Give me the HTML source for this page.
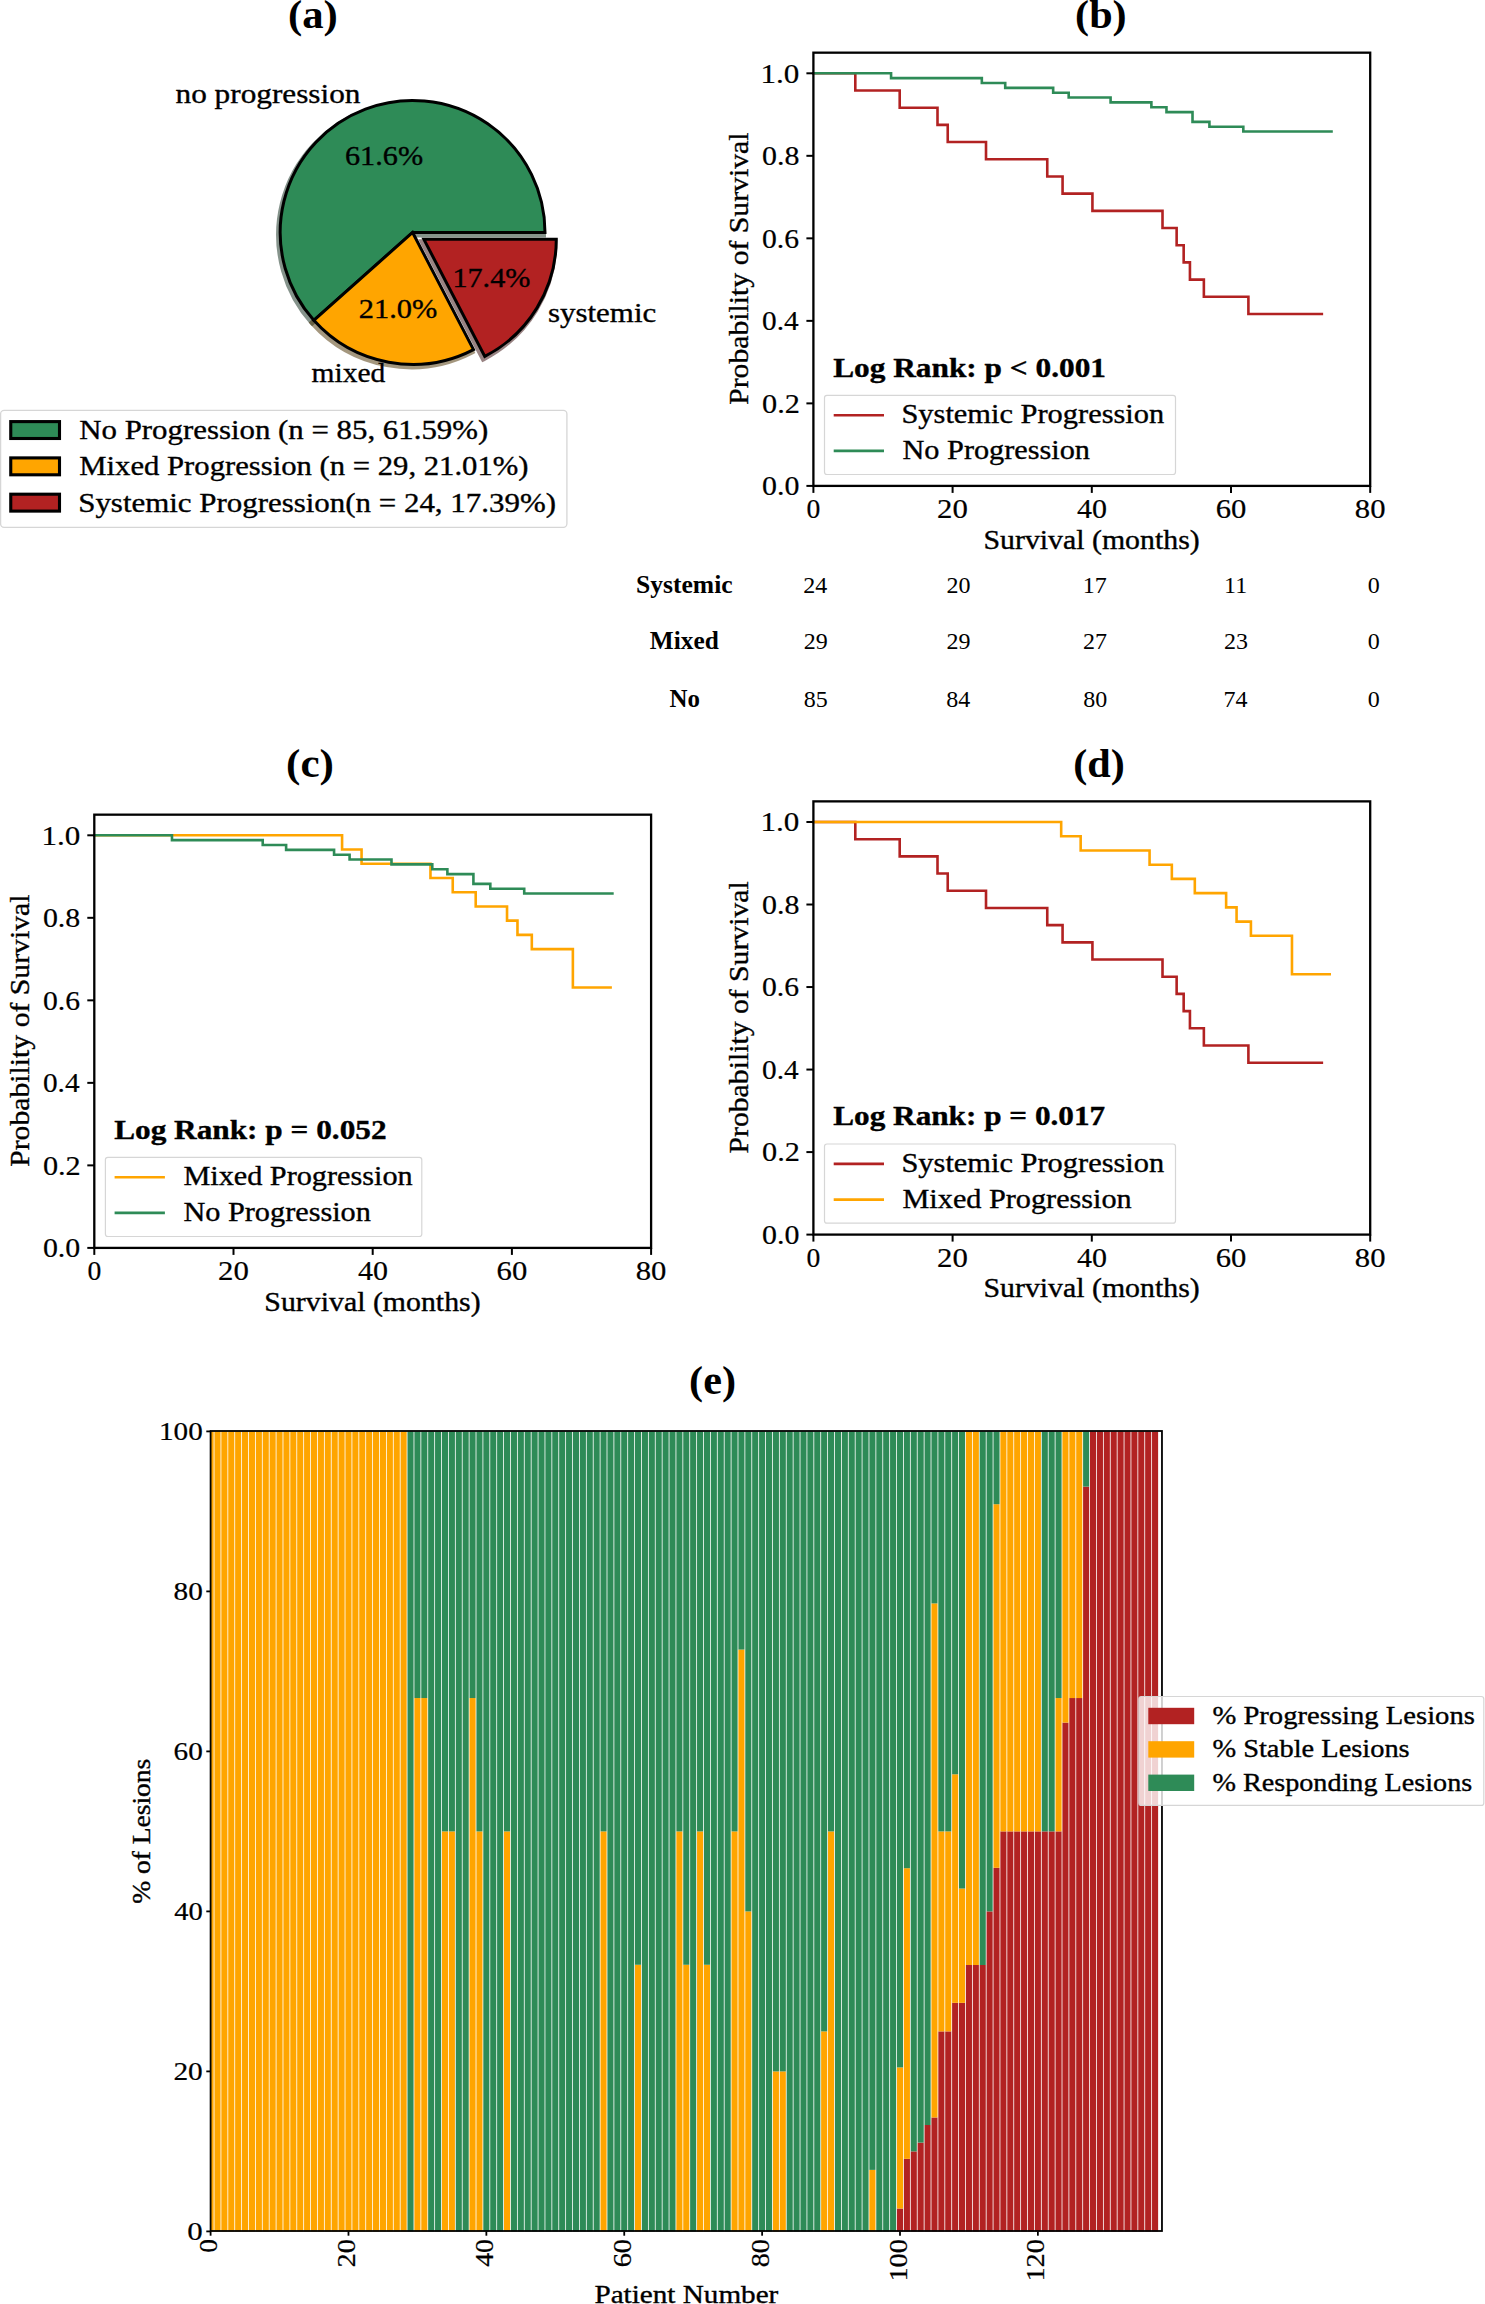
<!DOCTYPE html>
<html><head><meta charset="utf-8"><title>Figure</title>
<style>html,body{margin:0;padding:0;background:#fff;}svg{display:block;}</style></head>
<body><svg width="1485" height="2304" viewBox="0 0 1485 2304">
<rect width="1485" height="2304" fill="#fff"/>
<path d="M411.05,234.9 L543.45,234.9 A132.4,131.9 0 1 0 312.26,322.71 Z" fill="rgb(13,41,26)" stroke="rgb(13,41,26)" stroke-width="5.1" stroke-linejoin="miter" opacity="0.5"/>
<path d="M411.05,234.9 L312.26,322.71 A132.4,131.9 0 0 0 471.96,352.01 Z" fill="rgb(76,49,0)" stroke="rgb(76,49,0)" stroke-width="5.1" stroke-linejoin="miter" opacity="0.5"/>
<path d="M422.34,241.77 L483.25,358.88 A132.4,131.9 0 0 0 554.74,241.77 Z" fill="rgb(53,10,10)" stroke="rgb(53,10,10)" stroke-width="5.1" stroke-linejoin="miter" opacity="0.5"/>
<path d="M412.6,232.45 L545,232.45 A132.4,131.9 0 1 0 313.81,320.26 Z" fill="#2e8b57" stroke="#000" stroke-width="3" stroke-linejoin="miter"/>
<path d="M412.6,232.45 L313.81,320.26 A132.4,131.9 0 0 0 473.51,349.56 Z" fill="#ffa500" stroke="#000" stroke-width="3" stroke-linejoin="miter"/>
<path d="M423.89,239.32 L484.8,356.43 A132.4,131.9 0 0 0 556.29,239.32 Z" fill="#b22222" stroke="#000" stroke-width="3" stroke-linejoin="miter"/>
<text transform="translate(175.57,103) scale(1.1577,1)" style="font-family:&quot;Liberation Serif&quot;,serif;font-size:27px" fill="#000" stroke="#000" stroke-width="0.35">no progression</text>
<text transform="translate(311.61,381.7) scale(1.0916,1)" style="font-family:&quot;Liberation Serif&quot;,serif;font-size:27px" fill="#000" stroke="#000" stroke-width="0.35">mixed</text>
<text transform="translate(547.96,321.7) scale(1.1467,1)" style="font-family:&quot;Liberation Serif&quot;,serif;font-size:27px" fill="#000" stroke="#000" stroke-width="0.35">systemic</text>
<text transform="translate(344.99,165.1) scale(1.1200,1)" style="font-family:&quot;Liberation Serif&quot;,serif;font-size:27px" fill="#000" stroke="#000" stroke-width="0.35">61.6%</text>
<text transform="translate(358.83,317.5) scale(1.1252,1)" style="font-family:&quot;Liberation Serif&quot;,serif;font-size:27px" fill="#000" stroke="#000" stroke-width="0.35">21.0%</text>
<text transform="translate(452.43,287.3) scale(1.1179,1)" style="font-family:&quot;Liberation Serif&quot;,serif;font-size:27px" fill="#000" stroke="#000" stroke-width="0.35">17.4%</text>
<text transform="translate(287.97,28) scale(1.0694,1)" style="font-family:&quot;Liberation Serif&quot;,serif;font-weight:bold;font-size:40px" fill="#000">(a)</text>
<rect x="0.6" y="410.4" width="566.3" height="116.9" rx="3.5" fill="#fff" fill-opacity="0.8" stroke="#d6d6d6" stroke-width="1.3"/>
<rect x="10.75" y="421.6" width="48.75" height="16.9" fill="#2e8b57" stroke="#000" stroke-width="3.1"/>
<text transform="translate(79.27,438.9) scale(1.1427,1)" style="font-family:&quot;Liberation Serif&quot;,serif;font-size:27px" fill="#000" stroke="#000" stroke-width="0.35">No Progression (n = 85, 61.59%)</text>
<rect x="10.75" y="457.9" width="48.75" height="16.9" fill="#ffa500" stroke="#000" stroke-width="3.1"/>
<text transform="translate(79.28,475.2) scale(1.1366,1)" style="font-family:&quot;Liberation Serif&quot;,serif;font-size:27px" fill="#000" stroke="#000" stroke-width="0.35">Mixed Progression (n = 29, 21.01%)</text>
<rect x="10.75" y="494.2" width="48.75" height="16.9" fill="#b22222" stroke="#000" stroke-width="3.1"/>
<text transform="translate(78.19,511.5) scale(1.1460,1)" style="font-family:&quot;Liberation Serif&quot;,serif;font-size:27px" fill="#000" stroke="#000" stroke-width="0.35">Systemic Progression(n = 24, 17.39%)</text>
<path d="M813.4,73.3 H855.3 V90.49 H899.7 V107.68 H937.5 V124.87 H947.73 V142.07 H986.01 V159.26 H1047.26 V176.45 H1062.57 V193.64 H1092.43 V210.83 H1162.51 V228.02 H1176.64 V245.22 H1183.67 V262.41 H1189.94 V279.6 H1203.86 V296.79 H1248.4 V313.98 H1321.83" fill="none" stroke="#b22222" stroke-width="2.6" stroke-linecap="square"/>
<path d="M813.4,73.3 H891.07 V78.15 H981.83 V83.01 H1005.22 V87.86 H1053.17 V92.72 H1068.69 V97.57 H1110.59 V102.42 H1151.38 V107.28 H1166.48 V112.13 H1192.51 V121.84 H1209.42 V126.7 H1243.32 V131.55 H1331.5" fill="none" stroke="#2e8b57" stroke-width="2.6" stroke-linecap="square"/>
<rect x="813.4" y="52.67" width="556.8" height="433.23" fill="none" stroke="#000" stroke-width="2.3"/>
<line x1="806.4" y1="485.9" x2="813.4" y2="485.9" stroke="#000" stroke-width="2"/>
<text transform="translate(762,495.1) scale(1.1289,1)" style="font-family:&quot;Liberation Serif&quot;,serif;font-size:26.5px" fill="#000" stroke="#000" stroke-width="0.2">0.0</text>
<line x1="806.4" y1="403.38" x2="813.4" y2="403.38" stroke="#000" stroke-width="2"/>
<text transform="translate(761.99,412.58) scale(1.1435,1)" style="font-family:&quot;Liberation Serif&quot;,serif;font-size:26.5px" fill="#000" stroke="#000" stroke-width="0.2">0.2</text>
<line x1="806.4" y1="320.86" x2="813.4" y2="320.86" stroke="#000" stroke-width="2"/>
<text transform="translate(762.03,330.06) scale(1.1052,1)" style="font-family:&quot;Liberation Serif&quot;,serif;font-size:26.5px" fill="#000" stroke="#000" stroke-width="0.2">0.4</text>
<line x1="806.4" y1="238.34" x2="813.4" y2="238.34" stroke="#000" stroke-width="2"/>
<text transform="translate(762.01,247.54) scale(1.1193,1)" style="font-family:&quot;Liberation Serif&quot;,serif;font-size:26.5px" fill="#000" stroke="#000" stroke-width="0.2">0.6</text>
<line x1="806.4" y1="155.82" x2="813.4" y2="155.82" stroke="#000" stroke-width="2"/>
<text transform="translate(762,165.02) scale(1.1289,1)" style="font-family:&quot;Liberation Serif&quot;,serif;font-size:26.5px" fill="#000" stroke="#000" stroke-width="0.2">0.8</text>
<line x1="806.4" y1="73.3" x2="813.4" y2="73.3" stroke="#000" stroke-width="2"/>
<text transform="translate(760.56,82.5) scale(1.1740,1)" style="font-family:&quot;Liberation Serif&quot;,serif;font-size:26.5px" fill="#000" stroke="#000" stroke-width="0.2">1.0</text>
<line x1="813.4" y1="485.9" x2="813.4" y2="492.9" stroke="#000" stroke-width="2"/>
<text transform="translate(806.5,518.3) scale(1.0422,1)" style="font-family:&quot;Liberation Serif&quot;,serif;font-size:26.5px" fill="#000" stroke="#000" stroke-width="0.2">0</text>
<line x1="952.6" y1="485.9" x2="952.6" y2="492.9" stroke="#000" stroke-width="2"/>
<text transform="translate(937.11,518.3) scale(1.1630,1)" style="font-family:&quot;Liberation Serif&quot;,serif;font-size:26.5px" fill="#000" stroke="#000" stroke-width="0.2">20</text>
<line x1="1091.8" y1="485.9" x2="1091.8" y2="492.9" stroke="#000" stroke-width="2"/>
<text transform="translate(1077.1,518.3) scale(1.1321,1)" style="font-family:&quot;Liberation Serif&quot;,serif;font-size:26.5px" fill="#000" stroke="#000" stroke-width="0.2">40</text>
<line x1="1231" y1="485.9" x2="1231" y2="492.9" stroke="#000" stroke-width="2"/>
<text transform="translate(1215.67,518.3) scale(1.1567,1)" style="font-family:&quot;Liberation Serif&quot;,serif;font-size:26.5px" fill="#000" stroke="#000" stroke-width="0.2">60</text>
<line x1="1370.2" y1="485.9" x2="1370.2" y2="492.9" stroke="#000" stroke-width="2"/>
<text transform="translate(1354.87,518.3) scale(1.1567,1)" style="font-family:&quot;Liberation Serif&quot;,serif;font-size:26.5px" fill="#000" stroke="#000" stroke-width="0.2">80</text>
<text transform="translate(983.46,548.7) scale(1.1348,1)" style="font-family:&quot;Liberation Serif&quot;,serif;font-size:26.3px" fill="#000" stroke="#000" stroke-width="0.35">Survival (months)</text>
<text transform="translate(748,404.79) rotate(-90) scale(1.1213,1)" style="font-family:&quot;Liberation Serif&quot;,serif;font-size:26.5px" fill="#000" stroke="#000" stroke-width="0.35">Probability of Survival</text>
<text transform="translate(833.23,376.6) scale(1.1821,1)" style="font-family:&quot;Liberation Serif&quot;,serif;font-weight:bold;font-size:26.5px" fill="#000" stroke="#000" stroke-width="0.35">Log Rank: p &lt; 0.001</text>
<rect x="824.5" y="395.3" width="351" height="79.2" rx="2.5" fill="#fff" fill-opacity="0.8" stroke="#d6d6d6" stroke-width="1.2"/>
<line x1="833.7" y1="415.2" x2="884" y2="415.2" stroke="#b22222" stroke-width="2.6"/>
<text transform="translate(901.42,423) scale(1.1488,1)" style="font-family:&quot;Liberation Serif&quot;,serif;font-size:26.5px" fill="#000" stroke="#000" stroke-width="0.35">Systemic Progression</text>
<line x1="833.7" y1="450.9" x2="884" y2="450.9" stroke="#2e8b57" stroke-width="2.6"/>
<text transform="translate(902.49,458.8) scale(1.1431,1)" style="font-family:&quot;Liberation Serif&quot;,serif;font-size:26.5px" fill="#000" stroke="#000" stroke-width="0.35">No Progression</text>
<text transform="translate(1075.1,28) scale(1.0551,1)" style="font-family:&quot;Liberation Serif&quot;,serif;font-weight:bold;font-size:40px" fill="#000">(b)</text>
<path d="M94.3,835.3 H342.08 V849.53 H361.56 V863.76 H430.47 V877.98 H452.74 V892.21 H475.71 V906.44 H507.03 V920.67 H517.47 V934.89 H531.81 V949.12 H572.87 V987.55 H610.59" fill="none" stroke="#ffa500" stroke-width="2.6" stroke-linecap="square"/>
<path d="M94.3,835.3 H171.97 V840.15 H262.73 V845.01 H286.12 V849.86 H334.07 V854.72 H349.59 V859.57 H391.49 V864.42 H432.28 V869.28 H447.38 V874.13 H473.41 V883.84 H490.32 V888.7 H524.22 V893.55 H612.4" fill="none" stroke="#2e8b57" stroke-width="2.6" stroke-linecap="square"/>
<rect x="94.3" y="814.67" width="556.8" height="433.23" fill="none" stroke="#000" stroke-width="2.3"/>
<line x1="87.3" y1="1247.9" x2="94.3" y2="1247.9" stroke="#000" stroke-width="2"/>
<text transform="translate(42.9,1257.1) scale(1.1289,1)" style="font-family:&quot;Liberation Serif&quot;,serif;font-size:26.5px" fill="#000" stroke="#000" stroke-width="0.2">0.0</text>
<line x1="87.3" y1="1165.38" x2="94.3" y2="1165.38" stroke="#000" stroke-width="2"/>
<text transform="translate(42.89,1174.58) scale(1.1435,1)" style="font-family:&quot;Liberation Serif&quot;,serif;font-size:26.5px" fill="#000" stroke="#000" stroke-width="0.2">0.2</text>
<line x1="87.3" y1="1082.86" x2="94.3" y2="1082.86" stroke="#000" stroke-width="2"/>
<text transform="translate(42.93,1092.06) scale(1.1052,1)" style="font-family:&quot;Liberation Serif&quot;,serif;font-size:26.5px" fill="#000" stroke="#000" stroke-width="0.2">0.4</text>
<line x1="87.3" y1="1000.34" x2="94.3" y2="1000.34" stroke="#000" stroke-width="2"/>
<text transform="translate(42.91,1009.54) scale(1.1193,1)" style="font-family:&quot;Liberation Serif&quot;,serif;font-size:26.5px" fill="#000" stroke="#000" stroke-width="0.2">0.6</text>
<line x1="87.3" y1="917.82" x2="94.3" y2="917.82" stroke="#000" stroke-width="2"/>
<text transform="translate(42.9,927.02) scale(1.1289,1)" style="font-family:&quot;Liberation Serif&quot;,serif;font-size:26.5px" fill="#000" stroke="#000" stroke-width="0.2">0.8</text>
<line x1="87.3" y1="835.3" x2="94.3" y2="835.3" stroke="#000" stroke-width="2"/>
<text transform="translate(41.46,844.5) scale(1.1740,1)" style="font-family:&quot;Liberation Serif&quot;,serif;font-size:26.5px" fill="#000" stroke="#000" stroke-width="0.2">1.0</text>
<line x1="94.3" y1="1247.9" x2="94.3" y2="1254.9" stroke="#000" stroke-width="2"/>
<text transform="translate(87.4,1280.3) scale(1.0422,1)" style="font-family:&quot;Liberation Serif&quot;,serif;font-size:26.5px" fill="#000" stroke="#000" stroke-width="0.2">0</text>
<line x1="233.5" y1="1247.9" x2="233.5" y2="1254.9" stroke="#000" stroke-width="2"/>
<text transform="translate(218.01,1280.3) scale(1.1630,1)" style="font-family:&quot;Liberation Serif&quot;,serif;font-size:26.5px" fill="#000" stroke="#000" stroke-width="0.2">20</text>
<line x1="372.7" y1="1247.9" x2="372.7" y2="1254.9" stroke="#000" stroke-width="2"/>
<text transform="translate(358,1280.3) scale(1.1321,1)" style="font-family:&quot;Liberation Serif&quot;,serif;font-size:26.5px" fill="#000" stroke="#000" stroke-width="0.2">40</text>
<line x1="511.9" y1="1247.9" x2="511.9" y2="1254.9" stroke="#000" stroke-width="2"/>
<text transform="translate(496.57,1280.3) scale(1.1567,1)" style="font-family:&quot;Liberation Serif&quot;,serif;font-size:26.5px" fill="#000" stroke="#000" stroke-width="0.2">60</text>
<line x1="651.1" y1="1247.9" x2="651.1" y2="1254.9" stroke="#000" stroke-width="2"/>
<text transform="translate(635.77,1280.3) scale(1.1567,1)" style="font-family:&quot;Liberation Serif&quot;,serif;font-size:26.5px" fill="#000" stroke="#000" stroke-width="0.2">80</text>
<text transform="translate(264.36,1310.7) scale(1.1348,1)" style="font-family:&quot;Liberation Serif&quot;,serif;font-size:26.3px" fill="#000" stroke="#000" stroke-width="0.35">Survival (months)</text>
<text transform="translate(28.9,1166.79) rotate(-90) scale(1.1213,1)" style="font-family:&quot;Liberation Serif&quot;,serif;font-size:26.5px" fill="#000" stroke="#000" stroke-width="0.35">Probability of Survival</text>
<text transform="translate(114.13,1138.6) scale(1.1807,1)" style="font-family:&quot;Liberation Serif&quot;,serif;font-weight:bold;font-size:26.5px" fill="#000" stroke="#000" stroke-width="0.35">Log Rank: p = 0.052</text>
<rect x="105.4" y="1157.3" width="316.4" height="79.2" rx="2.5" fill="#fff" fill-opacity="0.8" stroke="#d6d6d6" stroke-width="1.2"/>
<line x1="114.6" y1="1177.2" x2="164.9" y2="1177.2" stroke="#ffa500" stroke-width="2.6"/>
<text transform="translate(183.39,1185) scale(1.1411,1)" style="font-family:&quot;Liberation Serif&quot;,serif;font-size:26.5px" fill="#000" stroke="#000" stroke-width="0.35">Mixed Progression</text>
<line x1="114.6" y1="1212.9" x2="164.9" y2="1212.9" stroke="#2e8b57" stroke-width="2.6"/>
<text transform="translate(183.39,1220.8) scale(1.1431,1)" style="font-family:&quot;Liberation Serif&quot;,serif;font-size:26.5px" fill="#000" stroke="#000" stroke-width="0.35">No Progression</text>
<text transform="translate(286.06,777) scale(1.0784,1)" style="font-family:&quot;Liberation Serif&quot;,serif;font-weight:bold;font-size:40px" fill="#000">(c)</text>
<path d="M813.4,822 H855.3 V839.19 H899.7 V856.38 H937.5 V873.57 H947.73 V890.77 H986.01 V907.96 H1047.26 V925.15 H1062.57 V942.34 H1092.43 V959.53 H1162.51 V976.72 H1176.64 V993.92 H1183.67 V1011.11 H1189.94 V1028.3 H1203.86 V1045.49 H1248.4 V1062.68 H1321.83" fill="none" stroke="#b22222" stroke-width="2.6" stroke-linecap="square"/>
<path d="M813.4,822 H1061.18 V836.23 H1080.66 V850.46 H1149.57 V864.68 H1171.84 V878.91 H1194.81 V893.14 H1226.13 V907.37 H1236.57 V921.59 H1250.91 V935.82 H1291.97 V974.25 H1329.69" fill="none" stroke="#ffa500" stroke-width="2.6" stroke-linecap="square"/>
<rect x="813.4" y="801.37" width="556.8" height="433.23" fill="none" stroke="#000" stroke-width="2.3"/>
<line x1="806.4" y1="1234.6" x2="813.4" y2="1234.6" stroke="#000" stroke-width="2"/>
<text transform="translate(762,1243.8) scale(1.1289,1)" style="font-family:&quot;Liberation Serif&quot;,serif;font-size:26.5px" fill="#000" stroke="#000" stroke-width="0.2">0.0</text>
<line x1="806.4" y1="1152.08" x2="813.4" y2="1152.08" stroke="#000" stroke-width="2"/>
<text transform="translate(761.99,1161.28) scale(1.1435,1)" style="font-family:&quot;Liberation Serif&quot;,serif;font-size:26.5px" fill="#000" stroke="#000" stroke-width="0.2">0.2</text>
<line x1="806.4" y1="1069.56" x2="813.4" y2="1069.56" stroke="#000" stroke-width="2"/>
<text transform="translate(762.03,1078.76) scale(1.1052,1)" style="font-family:&quot;Liberation Serif&quot;,serif;font-size:26.5px" fill="#000" stroke="#000" stroke-width="0.2">0.4</text>
<line x1="806.4" y1="987.04" x2="813.4" y2="987.04" stroke="#000" stroke-width="2"/>
<text transform="translate(762.01,996.24) scale(1.1193,1)" style="font-family:&quot;Liberation Serif&quot;,serif;font-size:26.5px" fill="#000" stroke="#000" stroke-width="0.2">0.6</text>
<line x1="806.4" y1="904.52" x2="813.4" y2="904.52" stroke="#000" stroke-width="2"/>
<text transform="translate(762,913.72) scale(1.1289,1)" style="font-family:&quot;Liberation Serif&quot;,serif;font-size:26.5px" fill="#000" stroke="#000" stroke-width="0.2">0.8</text>
<line x1="806.4" y1="822" x2="813.4" y2="822" stroke="#000" stroke-width="2"/>
<text transform="translate(760.56,831.2) scale(1.1740,1)" style="font-family:&quot;Liberation Serif&quot;,serif;font-size:26.5px" fill="#000" stroke="#000" stroke-width="0.2">1.0</text>
<line x1="813.4" y1="1234.6" x2="813.4" y2="1241.6" stroke="#000" stroke-width="2"/>
<text transform="translate(806.5,1267) scale(1.0422,1)" style="font-family:&quot;Liberation Serif&quot;,serif;font-size:26.5px" fill="#000" stroke="#000" stroke-width="0.2">0</text>
<line x1="952.6" y1="1234.6" x2="952.6" y2="1241.6" stroke="#000" stroke-width="2"/>
<text transform="translate(937.11,1267) scale(1.1630,1)" style="font-family:&quot;Liberation Serif&quot;,serif;font-size:26.5px" fill="#000" stroke="#000" stroke-width="0.2">20</text>
<line x1="1091.8" y1="1234.6" x2="1091.8" y2="1241.6" stroke="#000" stroke-width="2"/>
<text transform="translate(1077.1,1267) scale(1.1321,1)" style="font-family:&quot;Liberation Serif&quot;,serif;font-size:26.5px" fill="#000" stroke="#000" stroke-width="0.2">40</text>
<line x1="1231" y1="1234.6" x2="1231" y2="1241.6" stroke="#000" stroke-width="2"/>
<text transform="translate(1215.67,1267) scale(1.1567,1)" style="font-family:&quot;Liberation Serif&quot;,serif;font-size:26.5px" fill="#000" stroke="#000" stroke-width="0.2">60</text>
<line x1="1370.2" y1="1234.6" x2="1370.2" y2="1241.6" stroke="#000" stroke-width="2"/>
<text transform="translate(1354.87,1267) scale(1.1567,1)" style="font-family:&quot;Liberation Serif&quot;,serif;font-size:26.5px" fill="#000" stroke="#000" stroke-width="0.2">80</text>
<text transform="translate(983.46,1297.4) scale(1.1348,1)" style="font-family:&quot;Liberation Serif&quot;,serif;font-size:26.3px" fill="#000" stroke="#000" stroke-width="0.35">Survival (months)</text>
<text transform="translate(748,1153.49) rotate(-90) scale(1.1213,1)" style="font-family:&quot;Liberation Serif&quot;,serif;font-size:26.5px" fill="#000" stroke="#000" stroke-width="0.35">Probability of Survival</text>
<text transform="translate(833.23,1125.3) scale(1.1786,1)" style="font-family:&quot;Liberation Serif&quot;,serif;font-weight:bold;font-size:26.5px" fill="#000" stroke="#000" stroke-width="0.35">Log Rank: p = 0.017</text>
<rect x="824.5" y="1144" width="351" height="79.2" rx="2.5" fill="#fff" fill-opacity="0.8" stroke="#d6d6d6" stroke-width="1.2"/>
<line x1="833.7" y1="1163.9" x2="884" y2="1163.9" stroke="#b22222" stroke-width="2.6"/>
<text transform="translate(901.42,1171.7) scale(1.1488,1)" style="font-family:&quot;Liberation Serif&quot;,serif;font-size:26.5px" fill="#000" stroke="#000" stroke-width="0.35">Systemic Progression</text>
<line x1="833.7" y1="1199.6" x2="884" y2="1199.6" stroke="#ffa500" stroke-width="2.6"/>
<text transform="translate(902.49,1207.5) scale(1.1411,1)" style="font-family:&quot;Liberation Serif&quot;,serif;font-size:26.5px" fill="#000" stroke="#000" stroke-width="0.35">Mixed Progression</text>
<text transform="translate(1073.2,777) scale(1.0551,1)" style="font-family:&quot;Liberation Serif&quot;,serif;font-weight:bold;font-size:40px" fill="#000">(d)</text>
<text transform="translate(635.99,592.6) scale(1.0447,1)" style="font-family:&quot;Liberation Serif&quot;,serif;font-weight:bold;font-size:24.5px" fill="#000">Systemic</text>
<text transform="translate(803.34,592.6) scale(1.0000,1)" style="font-family:&quot;Liberation Serif&quot;,serif;font-size:24px" fill="#000">24</text>
<text transform="translate(946.44,592.6) scale(1.0000,1)" style="font-family:&quot;Liberation Serif&quot;,serif;font-size:24px" fill="#000">20</text>
<text transform="translate(1082.64,592.6) scale(1.0000,1)" style="font-family:&quot;Liberation Serif&quot;,serif;font-size:24px" fill="#000">17</text>
<text transform="translate(1224.12,592.6) scale(1.0000,1)" style="font-family:&quot;Liberation Serif&quot;,serif;font-size:24px" fill="#000">11</text>
<text transform="translate(1367.8,592.6) scale(1.0000,1)" style="font-family:&quot;Liberation Serif&quot;,serif;font-size:24px" fill="#000">0</text>
<text transform="translate(649.82,649.4) scale(1.0344,1)" style="font-family:&quot;Liberation Serif&quot;,serif;font-weight:bold;font-size:24.5px" fill="#000">Mixed</text>
<text transform="translate(803.64,649.4) scale(1.0000,1)" style="font-family:&quot;Liberation Serif&quot;,serif;font-size:24px" fill="#000">29</text>
<text transform="translate(946.44,649.4) scale(1.0000,1)" style="font-family:&quot;Liberation Serif&quot;,serif;font-size:24px" fill="#000">29</text>
<text transform="translate(1083.12,649.4) scale(1.0000,1)" style="font-family:&quot;Liberation Serif&quot;,serif;font-size:24px" fill="#000">27</text>
<text transform="translate(1223.94,649.4) scale(1.0000,1)" style="font-family:&quot;Liberation Serif&quot;,serif;font-size:24px" fill="#000">23</text>
<text transform="translate(1367.8,649.4) scale(1.0000,1)" style="font-family:&quot;Liberation Serif&quot;,serif;font-size:24px" fill="#000">0</text>
<text transform="translate(669.4,707) scale(1.0169,1)" style="font-family:&quot;Liberation Serif&quot;,serif;font-weight:bold;font-size:24.5px" fill="#000">No</text>
<text transform="translate(803.7,707) scale(1.0000,1)" style="font-family:&quot;Liberation Serif&quot;,serif;font-size:24px" fill="#000">85</text>
<text transform="translate(946.2,707) scale(1.0000,1)" style="font-family:&quot;Liberation Serif&quot;,serif;font-size:24px" fill="#000">84</text>
<text transform="translate(1083.3,707) scale(1.0000,1)" style="font-family:&quot;Liberation Serif&quot;,serif;font-size:24px" fill="#000">80</text>
<text transform="translate(1223.4,707) scale(1.0000,1)" style="font-family:&quot;Liberation Serif&quot;,serif;font-size:24px" fill="#000">74</text>
<text transform="translate(1367.8,707) scale(1.0000,1)" style="font-family:&quot;Liberation Serif&quot;,serif;font-size:24px" fill="#000">0</text>
<g shape-rendering="auto">
<rect x="210.6" y="1431.4" width="3.05" height="800" fill="#ffa500"/>
<rect x="214.45" y="1431.4" width="6.09" height="800" fill="#ffa500"/>
<rect x="221.34" y="1431.4" width="6.09" height="800" fill="#ffa500"/>
<rect x="228.23" y="1431.4" width="6.09" height="800" fill="#ffa500"/>
<rect x="235.13" y="1431.4" width="6.09" height="800" fill="#ffa500"/>
<rect x="242.02" y="1431.4" width="6.09" height="800" fill="#ffa500"/>
<rect x="248.92" y="1431.4" width="6.09" height="800" fill="#ffa500"/>
<rect x="255.81" y="1431.4" width="6.09" height="800" fill="#ffa500"/>
<rect x="262.7" y="1431.4" width="6.09" height="800" fill="#ffa500"/>
<rect x="269.6" y="1431.4" width="6.09" height="800" fill="#ffa500"/>
<rect x="276.49" y="1431.4" width="6.09" height="800" fill="#ffa500"/>
<rect x="283.39" y="1431.4" width="6.09" height="800" fill="#ffa500"/>
<rect x="290.28" y="1431.4" width="6.09" height="800" fill="#ffa500"/>
<rect x="297.17" y="1431.4" width="6.09" height="800" fill="#ffa500"/>
<rect x="304.07" y="1431.4" width="6.09" height="800" fill="#ffa500"/>
<rect x="310.96" y="1431.4" width="6.09" height="800" fill="#ffa500"/>
<rect x="317.86" y="1431.4" width="6.09" height="800" fill="#ffa500"/>
<rect x="324.75" y="1431.4" width="6.09" height="800" fill="#ffa500"/>
<rect x="331.64" y="1431.4" width="6.09" height="800" fill="#ffa500"/>
<rect x="338.54" y="1431.4" width="6.09" height="800" fill="#ffa500"/>
<rect x="345.43" y="1431.4" width="6.09" height="800" fill="#ffa500"/>
<rect x="352.33" y="1431.4" width="6.09" height="800" fill="#ffa500"/>
<rect x="359.22" y="1431.4" width="6.09" height="800" fill="#ffa500"/>
<rect x="366.12" y="1431.4" width="6.09" height="800" fill="#ffa500"/>
<rect x="373.01" y="1431.4" width="6.09" height="800" fill="#ffa500"/>
<rect x="379.9" y="1431.4" width="6.09" height="800" fill="#ffa500"/>
<rect x="386.8" y="1431.4" width="6.09" height="800" fill="#ffa500"/>
<rect x="393.69" y="1431.4" width="6.09" height="800" fill="#ffa500"/>
<rect x="400.58" y="1431.4" width="6.09" height="800" fill="#ffa500"/>
<rect x="407.48" y="1431.4" width="6.09" height="800" fill="#2e8b57"/>
<rect x="414.37" y="1698.04" width="6.09" height="533.36" fill="#ffa500"/>
<rect x="414.37" y="1431.4" width="6.09" height="266.64" fill="#2e8b57"/>
<rect x="421.27" y="1698.04" width="6.09" height="533.36" fill="#ffa500"/>
<rect x="421.27" y="1431.4" width="6.09" height="266.64" fill="#2e8b57"/>
<rect x="428.16" y="1431.4" width="6.09" height="800" fill="#2e8b57"/>
<rect x="435.05" y="1431.4" width="6.09" height="800" fill="#2e8b57"/>
<rect x="441.95" y="1831.4" width="6.09" height="400" fill="#ffa500"/>
<rect x="441.95" y="1431.4" width="6.09" height="400" fill="#2e8b57"/>
<rect x="448.84" y="1831.4" width="6.09" height="400" fill="#ffa500"/>
<rect x="448.84" y="1431.4" width="6.09" height="400" fill="#2e8b57"/>
<rect x="455.74" y="1431.4" width="6.09" height="800" fill="#2e8b57"/>
<rect x="462.63" y="1431.4" width="6.09" height="800" fill="#2e8b57"/>
<rect x="469.52" y="1698.04" width="6.09" height="533.36" fill="#ffa500"/>
<rect x="469.52" y="1431.4" width="6.09" height="266.64" fill="#2e8b57"/>
<rect x="476.42" y="1831.4" width="6.09" height="400" fill="#ffa500"/>
<rect x="476.42" y="1431.4" width="6.09" height="400" fill="#2e8b57"/>
<rect x="483.31" y="1431.4" width="6.09" height="800" fill="#2e8b57"/>
<rect x="490.21" y="1431.4" width="6.09" height="800" fill="#2e8b57"/>
<rect x="497.1" y="1431.4" width="6.09" height="800" fill="#2e8b57"/>
<rect x="504" y="1831.4" width="6.09" height="400" fill="#ffa500"/>
<rect x="504" y="1431.4" width="6.09" height="400" fill="#2e8b57"/>
<rect x="510.89" y="1431.4" width="6.09" height="800" fill="#2e8b57"/>
<rect x="517.78" y="1431.4" width="6.09" height="800" fill="#2e8b57"/>
<rect x="524.68" y="1431.4" width="6.09" height="800" fill="#2e8b57"/>
<rect x="531.57" y="1431.4" width="6.09" height="800" fill="#2e8b57"/>
<rect x="538.47" y="1431.4" width="6.09" height="800" fill="#2e8b57"/>
<rect x="545.36" y="1431.4" width="6.09" height="800" fill="#2e8b57"/>
<rect x="552.25" y="1431.4" width="6.09" height="800" fill="#2e8b57"/>
<rect x="559.15" y="1431.4" width="6.09" height="800" fill="#2e8b57"/>
<rect x="566.04" y="1431.4" width="6.09" height="800" fill="#2e8b57"/>
<rect x="572.93" y="1431.4" width="6.09" height="800" fill="#2e8b57"/>
<rect x="579.83" y="1431.4" width="6.09" height="800" fill="#2e8b57"/>
<rect x="586.72" y="1431.4" width="6.09" height="800" fill="#2e8b57"/>
<rect x="593.62" y="1431.4" width="6.09" height="800" fill="#2e8b57"/>
<rect x="600.51" y="1831.4" width="6.09" height="400" fill="#ffa500"/>
<rect x="600.51" y="1431.4" width="6.09" height="400" fill="#2e8b57"/>
<rect x="607.4" y="1431.4" width="6.09" height="800" fill="#2e8b57"/>
<rect x="614.3" y="1431.4" width="6.09" height="800" fill="#2e8b57"/>
<rect x="621.19" y="1431.4" width="6.09" height="800" fill="#2e8b57"/>
<rect x="628.09" y="1431.4" width="6.09" height="800" fill="#2e8b57"/>
<rect x="634.98" y="1964.76" width="6.09" height="266.64" fill="#ffa500"/>
<rect x="634.98" y="1431.4" width="6.09" height="533.36" fill="#2e8b57"/>
<rect x="641.88" y="1431.4" width="6.09" height="800" fill="#2e8b57"/>
<rect x="648.77" y="1431.4" width="6.09" height="800" fill="#2e8b57"/>
<rect x="655.66" y="1431.4" width="6.09" height="800" fill="#2e8b57"/>
<rect x="662.56" y="1431.4" width="6.09" height="800" fill="#2e8b57"/>
<rect x="669.45" y="1431.4" width="6.09" height="800" fill="#2e8b57"/>
<rect x="676.35" y="1831.4" width="6.09" height="400" fill="#ffa500"/>
<rect x="676.35" y="1431.4" width="6.09" height="400" fill="#2e8b57"/>
<rect x="683.24" y="1964.76" width="6.09" height="266.64" fill="#ffa500"/>
<rect x="683.24" y="1431.4" width="6.09" height="533.36" fill="#2e8b57"/>
<rect x="690.13" y="1431.4" width="6.09" height="800" fill="#2e8b57"/>
<rect x="697.03" y="1831.4" width="6.09" height="400" fill="#ffa500"/>
<rect x="697.03" y="1431.4" width="6.09" height="400" fill="#2e8b57"/>
<rect x="703.92" y="1964.76" width="6.09" height="266.64" fill="#ffa500"/>
<rect x="703.92" y="1431.4" width="6.09" height="533.36" fill="#2e8b57"/>
<rect x="710.81" y="1431.4" width="6.09" height="800" fill="#2e8b57"/>
<rect x="717.71" y="1431.4" width="6.09" height="800" fill="#2e8b57"/>
<rect x="724.6" y="1431.4" width="6.09" height="800" fill="#2e8b57"/>
<rect x="731.5" y="1831.4" width="6.09" height="400" fill="#ffa500"/>
<rect x="731.5" y="1431.4" width="6.09" height="400" fill="#2e8b57"/>
<rect x="738.39" y="1649.56" width="6.09" height="581.84" fill="#ffa500"/>
<rect x="738.39" y="1431.4" width="6.09" height="218.16" fill="#2e8b57"/>
<rect x="745.28" y="1911.4" width="6.09" height="320" fill="#ffa500"/>
<rect x="745.28" y="1431.4" width="6.09" height="480" fill="#2e8b57"/>
<rect x="752.18" y="1431.4" width="6.09" height="800" fill="#2e8b57"/>
<rect x="759.07" y="1431.4" width="6.09" height="800" fill="#2e8b57"/>
<rect x="765.97" y="1431.4" width="6.09" height="800" fill="#2e8b57"/>
<rect x="772.86" y="2071.4" width="6.09" height="160" fill="#ffa500"/>
<rect x="772.86" y="1431.4" width="6.09" height="640" fill="#2e8b57"/>
<rect x="779.75" y="2071.4" width="6.09" height="160" fill="#ffa500"/>
<rect x="779.75" y="1431.4" width="6.09" height="640" fill="#2e8b57"/>
<rect x="786.65" y="1431.4" width="6.09" height="800" fill="#2e8b57"/>
<rect x="793.54" y="1431.4" width="6.09" height="800" fill="#2e8b57"/>
<rect x="800.44" y="1431.4" width="6.09" height="800" fill="#2e8b57"/>
<rect x="807.33" y="1431.4" width="6.09" height="800" fill="#2e8b57"/>
<rect x="814.23" y="1431.4" width="6.09" height="800" fill="#2e8b57"/>
<rect x="821.12" y="2031.4" width="6.09" height="200" fill="#ffa500"/>
<rect x="821.12" y="1431.4" width="6.09" height="600" fill="#2e8b57"/>
<rect x="828.01" y="1831.4" width="6.09" height="400" fill="#ffa500"/>
<rect x="828.01" y="1431.4" width="6.09" height="400" fill="#2e8b57"/>
<rect x="834.91" y="1431.4" width="6.09" height="800" fill="#2e8b57"/>
<rect x="841.8" y="1431.4" width="6.09" height="800" fill="#2e8b57"/>
<rect x="848.7" y="1431.4" width="6.09" height="800" fill="#2e8b57"/>
<rect x="855.59" y="1431.4" width="6.09" height="800" fill="#2e8b57"/>
<rect x="862.48" y="1431.4" width="6.09" height="800" fill="#2e8b57"/>
<rect x="869.38" y="2169.88" width="6.09" height="61.52" fill="#ffa500"/>
<rect x="869.38" y="1431.4" width="6.09" height="738.48" fill="#2e8b57"/>
<rect x="876.27" y="1431.4" width="6.09" height="800" fill="#2e8b57"/>
<rect x="883.16" y="1431.4" width="6.09" height="800" fill="#2e8b57"/>
<rect x="890.06" y="1431.4" width="6.09" height="800" fill="#2e8b57"/>
<rect x="896.95" y="2208.52" width="6.09" height="22.88" fill="#b22222"/>
<rect x="896.95" y="2067.4" width="6.09" height="141.12" fill="#ffa500"/>
<rect x="896.95" y="1431.4" width="6.09" height="636" fill="#2e8b57"/>
<rect x="903.85" y="2158.84" width="6.09" height="72.56" fill="#b22222"/>
<rect x="903.85" y="1868.2" width="6.09" height="290.64" fill="#ffa500"/>
<rect x="903.85" y="1431.4" width="6.09" height="436.8" fill="#2e8b57"/>
<rect x="910.74" y="2151.4" width="6.09" height="80" fill="#b22222"/>
<rect x="910.74" y="1431.4" width="6.09" height="720" fill="#2e8b57"/>
<rect x="917.63" y="2142.6" width="6.09" height="88.8" fill="#b22222"/>
<rect x="917.63" y="1431.4" width="6.09" height="711.2" fill="#2e8b57"/>
<rect x="924.53" y="2125" width="6.09" height="106.4" fill="#b22222"/>
<rect x="924.53" y="1431.4" width="6.09" height="693.6" fill="#2e8b57"/>
<rect x="931.42" y="2117.48" width="6.09" height="113.92" fill="#b22222"/>
<rect x="931.42" y="1603.4" width="6.09" height="514.08" fill="#ffa500"/>
<rect x="931.42" y="1431.4" width="6.09" height="172" fill="#2e8b57"/>
<rect x="938.32" y="2031.4" width="6.09" height="200" fill="#b22222"/>
<rect x="938.32" y="1831.4" width="6.09" height="200" fill="#ffa500"/>
<rect x="938.32" y="1431.4" width="6.09" height="400" fill="#2e8b57"/>
<rect x="945.21" y="2031.4" width="6.09" height="200" fill="#b22222"/>
<rect x="945.21" y="1831.4" width="6.09" height="200" fill="#ffa500"/>
<rect x="945.21" y="1431.4" width="6.09" height="400" fill="#2e8b57"/>
<rect x="952.11" y="2002.84" width="6.09" height="228.56" fill="#b22222"/>
<rect x="952.11" y="1774.28" width="6.09" height="228.56" fill="#ffa500"/>
<rect x="952.11" y="1431.4" width="6.09" height="342.88" fill="#2e8b57"/>
<rect x="959" y="2002.84" width="6.09" height="228.56" fill="#b22222"/>
<rect x="959" y="1888.52" width="6.09" height="114.32" fill="#ffa500"/>
<rect x="959" y="1431.4" width="6.09" height="457.12" fill="#2e8b57"/>
<rect x="965.89" y="1965" width="6.09" height="266.4" fill="#b22222"/>
<rect x="965.89" y="1431.4" width="6.09" height="533.6" fill="#ffa500"/>
<rect x="972.79" y="1965" width="6.09" height="266.4" fill="#b22222"/>
<rect x="972.79" y="1431.4" width="6.09" height="533.6" fill="#ffa500"/>
<rect x="979.68" y="1965" width="6.09" height="266.4" fill="#b22222"/>
<rect x="979.68" y="1431.4" width="6.09" height="533.6" fill="#2e8b57"/>
<rect x="986.58" y="1911.4" width="6.09" height="320" fill="#b22222"/>
<rect x="986.58" y="1431.4" width="6.09" height="480" fill="#2e8b57"/>
<rect x="993.47" y="1867.8" width="6.09" height="363.6" fill="#b22222"/>
<rect x="993.47" y="1504.2" width="6.09" height="363.6" fill="#ffa500"/>
<rect x="993.47" y="1431.4" width="6.09" height="72.8" fill="#2e8b57"/>
<rect x="1000.36" y="1831.4" width="6.09" height="400" fill="#b22222"/>
<rect x="1000.36" y="1431.4" width="6.09" height="400" fill="#ffa500"/>
<rect x="1007.26" y="1831.4" width="6.09" height="400" fill="#b22222"/>
<rect x="1007.26" y="1431.4" width="6.09" height="400" fill="#ffa500"/>
<rect x="1014.15" y="1831.4" width="6.09" height="400" fill="#b22222"/>
<rect x="1014.15" y="1431.4" width="6.09" height="400" fill="#ffa500"/>
<rect x="1021.04" y="1831.4" width="6.09" height="400" fill="#b22222"/>
<rect x="1021.04" y="1431.4" width="6.09" height="400" fill="#ffa500"/>
<rect x="1027.94" y="1831.4" width="6.09" height="400" fill="#b22222"/>
<rect x="1027.94" y="1431.4" width="6.09" height="400" fill="#ffa500"/>
<rect x="1034.83" y="1831.4" width="6.09" height="400" fill="#b22222"/>
<rect x="1034.83" y="1431.4" width="6.09" height="400" fill="#ffa500"/>
<rect x="1041.73" y="1831.4" width="6.09" height="400" fill="#b22222"/>
<rect x="1041.73" y="1431.4" width="6.09" height="400" fill="#2e8b57"/>
<rect x="1048.62" y="1831.4" width="6.09" height="400" fill="#b22222"/>
<rect x="1048.62" y="1431.4" width="6.09" height="400" fill="#2e8b57"/>
<rect x="1055.52" y="1831.4" width="6.09" height="400" fill="#b22222"/>
<rect x="1055.52" y="1698.04" width="6.09" height="133.36" fill="#ffa500"/>
<rect x="1055.52" y="1431.4" width="6.09" height="266.64" fill="#2e8b57"/>
<rect x="1062.41" y="1722.6" width="6.09" height="508.8" fill="#b22222"/>
<rect x="1062.41" y="1431.4" width="6.09" height="291.2" fill="#ffa500"/>
<rect x="1069.3" y="1698.04" width="6.09" height="533.36" fill="#b22222"/>
<rect x="1069.3" y="1431.4" width="6.09" height="266.64" fill="#ffa500"/>
<rect x="1076.2" y="1698.04" width="6.09" height="533.36" fill="#b22222"/>
<rect x="1076.2" y="1431.4" width="6.09" height="266.64" fill="#ffa500"/>
<rect x="1083.09" y="1486.6" width="6.09" height="744.8" fill="#b22222"/>
<rect x="1083.09" y="1431.4" width="6.09" height="55.2" fill="#2e8b57"/>
<rect x="1089.99" y="1431.4" width="6.09" height="800" fill="#b22222"/>
<rect x="1096.88" y="1431.4" width="6.09" height="800" fill="#b22222"/>
<rect x="1103.77" y="1431.4" width="6.09" height="800" fill="#b22222"/>
<rect x="1110.67" y="1431.4" width="6.09" height="800" fill="#b22222"/>
<rect x="1117.56" y="1431.4" width="6.09" height="800" fill="#b22222"/>
<rect x="1124.46" y="1431.4" width="6.09" height="800" fill="#b22222"/>
<rect x="1131.35" y="1431.4" width="6.09" height="800" fill="#b22222"/>
<rect x="1138.24" y="1431.4" width="6.09" height="800" fill="#b22222"/>
<rect x="1145.14" y="1431.4" width="6.09" height="800" fill="#b22222"/>
<rect x="1152.03" y="1431.4" width="6.09" height="800" fill="#b22222"/>
</g>
<rect x="210.6" y="1431.0" width="951.37" height="800.0" fill="none" stroke="#000" stroke-width="1.8"/>
<line x1="206.3" y1="2231.4" x2="210.6" y2="2231.4" stroke="#000" stroke-width="1.8"/>
<text transform="translate(187.36,2240) scale(1.2138,1)" style="font-family:&quot;Liberation Serif&quot;,serif;font-size:25.5px" fill="#000" stroke="#000" stroke-width="0.2">0</text>
<line x1="206.3" y1="2071.4" x2="210.6" y2="2071.4" stroke="#000" stroke-width="1.8"/>
<text transform="translate(173.38,2080) scale(1.1529,1)" style="font-family:&quot;Liberation Serif&quot;,serif;font-size:25.5px" fill="#000" stroke="#000" stroke-width="0.2">20</text>
<line x1="206.3" y1="1911.4" x2="210.6" y2="1911.4" stroke="#000" stroke-width="1.8"/>
<text transform="translate(174.13,1920) scale(1.1222,1)" style="font-family:&quot;Liberation Serif&quot;,serif;font-size:25.5px" fill="#000" stroke="#000" stroke-width="0.2">40</text>
<line x1="206.3" y1="1751.4" x2="210.6" y2="1751.4" stroke="#000" stroke-width="1.8"/>
<text transform="translate(173.53,1760) scale(1.1466,1)" style="font-family:&quot;Liberation Serif&quot;,serif;font-size:25.5px" fill="#000" stroke="#000" stroke-width="0.2">60</text>
<line x1="206.3" y1="1591.4" x2="210.6" y2="1591.4" stroke="#000" stroke-width="1.8"/>
<text transform="translate(173.53,1600) scale(1.1466,1)" style="font-family:&quot;Liberation Serif&quot;,serif;font-size:25.5px" fill="#000" stroke="#000" stroke-width="0.2">80</text>
<line x1="206.3" y1="1431.4" x2="210.6" y2="1431.4" stroke="#000" stroke-width="1.8"/>
<text transform="translate(159.02,1440) scale(1.1437,1)" style="font-family:&quot;Liberation Serif&quot;,serif;font-size:25.5px" fill="#000" stroke="#000" stroke-width="0.2">100</text>
<line x1="210.6" y1="2231.4" x2="210.6" y2="2235.7" stroke="#000" stroke-width="1.8"/>
<text transform="translate(217.2,2252.8) rotate(-90) scale(1.0952,1)" style="font-family:&quot;Liberation Serif&quot;,serif;font-size:25px" fill="#000" stroke="#000" stroke-width="0.2">0</text>
<line x1="348.48" y1="2231.4" x2="348.48" y2="2235.7" stroke="#000" stroke-width="1.8"/>
<text transform="translate(355.08,2267.48) rotate(-90) scale(1.1366,1)" style="font-family:&quot;Liberation Serif&quot;,serif;font-size:25px" fill="#000" stroke="#000" stroke-width="0.2">20</text>
<line x1="486.36" y1="2231.4" x2="486.36" y2="2235.7" stroke="#000" stroke-width="1.8"/>
<text transform="translate(492.96,2266.75) rotate(-90) scale(1.1064,1)" style="font-family:&quot;Liberation Serif&quot;,serif;font-size:25px" fill="#000" stroke="#000" stroke-width="0.2">40</text>
<line x1="624.24" y1="2231.4" x2="624.24" y2="2235.7" stroke="#000" stroke-width="1.8"/>
<text transform="translate(630.84,2267.33) rotate(-90) scale(1.1304,1)" style="font-family:&quot;Liberation Serif&quot;,serif;font-size:25px" fill="#000" stroke="#000" stroke-width="0.2">60</text>
<line x1="762.12" y1="2231.4" x2="762.12" y2="2235.7" stroke="#000" stroke-width="1.8"/>
<text transform="translate(768.72,2267.33) rotate(-90) scale(1.1304,1)" style="font-family:&quot;Liberation Serif&quot;,serif;font-size:25px" fill="#000" stroke="#000" stroke-width="0.2">80</text>
<line x1="900" y1="2231.4" x2="900" y2="2235.7" stroke="#000" stroke-width="1.8"/>
<text transform="translate(906.6,2281.61) rotate(-90) scale(1.1345,1)" style="font-family:&quot;Liberation Serif&quot;,serif;font-size:25px" fill="#000" stroke="#000" stroke-width="0.2">100</text>
<line x1="1037.88" y1="2231.4" x2="1037.88" y2="2235.7" stroke="#000" stroke-width="1.8"/>
<text transform="translate(1044.48,2281.61) rotate(-90) scale(1.1345,1)" style="font-family:&quot;Liberation Serif&quot;,serif;font-size:25px" fill="#000" stroke="#000" stroke-width="0.2">120</text>
<text transform="translate(594.42,2302.5) scale(1.1539,1)" style="font-family:&quot;Liberation Serif&quot;,serif;font-size:25.3px" fill="#000" stroke="#000" stroke-width="0.35">Patient Number</text>
<text transform="translate(150.4,1903.86) rotate(-90) scale(1.0879,1)" style="font-family:&quot;Liberation Serif&quot;,serif;font-size:25.3px" fill="#000" stroke="#000" stroke-width="0.35">% of Lesions</text>
<text transform="translate(689.1,1394) scale(1.0564,1)" style="font-family:&quot;Liberation Serif&quot;,serif;font-weight:bold;font-size:40px" fill="#000">(e)</text>
<rect x="1138.9" y="1696.5" width="344.9" height="108.9" rx="2.5" fill="#fff" fill-opacity="0.8" stroke="#d6d6d6" stroke-width="1.2"/>
<rect x="1148.3" y="1707.8" width="45.9" height="16.4" fill="#b22222"/>
<text transform="translate(1212.4,1724.2) scale(1.1321,1)" style="font-family:&quot;Liberation Serif&quot;,serif;font-size:25.3px" fill="#000" stroke="#000" stroke-width="0.35">% Progressing Lesions</text>
<rect x="1148.3" y="1741.2" width="45.9" height="16.4" fill="#ffa500"/>
<text transform="translate(1212.41,1757.4) scale(1.1234,1)" style="font-family:&quot;Liberation Serif&quot;,serif;font-size:25.3px" fill="#000" stroke="#000" stroke-width="0.35">% Stable Lesions</text>
<rect x="1148.3" y="1774.6" width="45.9" height="16.4" fill="#2e8b57"/>
<text transform="translate(1212.41,1790.6) scale(1.1143,1)" style="font-family:&quot;Liberation Serif&quot;,serif;font-size:25.3px" fill="#000" stroke="#000" stroke-width="0.35">% Responding Lesions</text>
</svg></body></html>
